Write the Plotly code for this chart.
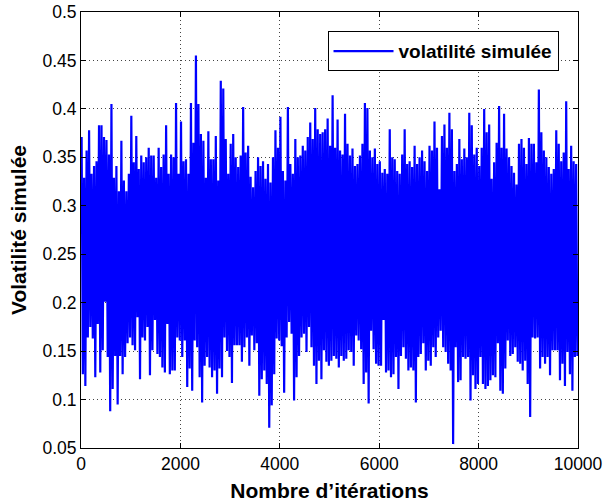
import plotly.graph_objects as go

# Simulated volatility, read per 50-iteration bin: highest and lowest value in each bin
bin_width = 50
bin_start = list(range(0, 10000, bin_width))

vol_high = [
0.371,0.329,0.357,0.378,0.333,0.341,0.346,0.383,0.383,0.371,
0.368,0.353,0.405,0.329,0.341,0.315,0.367,0.326,0.315,0.333,
0.393,0.345,0.372,0.338,0.352,0.345,0.350,0.360,0.352,0.352,
0.329,0.360,0.340,0.353,0.383,0.333,0.353,0.350,0.406,0.333,
0.387,0.346,0.348,0.333,0.406,0.365,0.455,0.405,0.374,0.367,
0.329,0.377,0.348,0.348,0.372,0.326,0.429,0.421,0.369,0.333,
0.364,0.374,0.350,0.340,0.352,0.402,0.355,0.362,0.330,0.319,
0.336,0.350,0.341,0.346,0.328,0.343,0.324,0.350,0.378,0.360,
0.392,0.336,0.326,0.402,0.343,0.333,0.369,0.350,0.352,0.362,
0.357,0.371,0.386,0.369,0.401,0.379,0.374,0.376,0.379,0.390,
0.362,0.414,0.360,0.389,0.357,0.353,0.395,0.364,0.352,0.359,
0.341,0.343,0.352,0.364,0.406,0.401,0.357,0.350,0.359,0.343,
0.346,0.334,0.338,0.333,0.379,0.350,0.348,0.336,0.333,0.353,
0.379,0.343,0.346,0.340,0.362,0.343,0.350,0.357,0.346,0.336,
0.362,0.357,0.387,0.360,0.317,0.372,0.384,0.360,0.396,0.379,
0.336,0.343,0.369,0.348,0.359,0.350,0.396,0.383,0.353,0.360,
0.341,0.360,0.400,0.376,0.384,0.328,0.345,0.365,0.403,0.360,
0.395,0.359,0.350,0.341,0.334,0.322,0.364,0.369,0.360,0.343,
0.370,0.364,0.364,0.345,0.420,0.376,0.357,0.350,0.340,0.333,
0.338,0.378,0.364,0.346,0.355,0.408,0.338,0.362,0.346,0.343,
]

vol_low = [
0.126,0.114,0.164,0.175,0.163,0.123,0.178,0.128,0.151,0.201,
0.144,0.088,0.111,0.145,0.095,0.145,0.126,0.144,0.158,0.164,
0.156,0.151,0.185,0.121,0.164,0.161,0.175,0.125,0.151,0.182,
0.147,0.144,0.133,0.128,0.178,0.126,0.130,0.130,0.164,0.161,
0.144,0.161,0.113,0.132,0.109,0.161,0.154,0.123,0.097,0.135,
0.144,0.133,0.123,0.130,0.106,0.132,0.123,0.164,0.150,0.144,
0.117,0.156,0.156,0.156,0.139,0.154,0.164,0.135,0.166,0.151,
0.158,0.104,0.121,0.130,0.116,0.071,0.094,0.126,0.163,0.161,
0.155,0.107,0.164,0.180,0.168,0.099,0.123,0.145,0.164,0.168,
0.149,0.175,0.154,0.135,0.116,0.140,0.121,0.151,0.139,0.135,
0.140,0.145,0.142,0.133,0.145,0.140,0.142,0.151,0.149,0.135,
0.166,0.161,0.152,0.116,0.128,0.096,0.171,0.152,0.137,0.135,
0.135,0.182,0.128,0.130,0.123,0.126,0.144,0.111,0.145,0.154,
0.142,0.130,0.133,0.130,0.097,0.144,0.147,0.158,0.130,0.140,
0.135,0.154,0.144,0.164,0.171,0.154,0.149,0.137,0.130,0.054,
0.154,0.118,0.120,0.144,0.142,0.144,0.099,0.125,0.111,0.116,
0.144,0.116,0.111,0.114,0.120,0.125,0.123,0.158,0.109,0.106,
0.132,0.161,0.145,0.147,0.154,0.139,0.137,0.130,0.140,0.116,
0.082,0.164,0.163,0.164,0.132,0.144,0.137,0.144,0.125,0.151,
0.151,0.151,0.120,0.137,0.114,0.149,0.126,0.109,0.144,0.145,
]

x_ticks = [0, 2000, 4000, 6000, 8000, 10000]
x_tick_labels = ["0", "2000", "4000", "6000", "8000", "10000"]
y_ticks = [0.05, 0.1, 0.15, 0.2, 0.25, 0.3, 0.35, 0.4, 0.45, 0.5]
y_tick_labels = ["0.05", "0.1", "0.15", "0.2", "0.25", "0.3", "0.35", "0.4", "0.45", "0.5"]

# the series swings between the high and the low of each bin
xs, ys = [], []
for s, hi, lo in zip(bin_start, vol_high, vol_low):
    xs += [s + bin_width * 0.25, s + bin_width * 0.75]
    ys += [hi, lo]

FONT = "Liberation Sans, Arial, Helvetica, sans-serif"

fig = go.Figure()
fig.add_trace(go.Scatter(
    x=xs, y=ys, mode="lines", name="volatilité simulée",
    line=dict(color="#0000ff", width=2.2, simplify=False),
))

axis_common = dict(
    showline=True, linecolor="black", linewidth=1, mirror="ticks",
    ticks="inside", ticklen=5, tickcolor="black", tickwidth=1,
    showgrid=True, gridcolor="#444444", griddash="1px,3px", gridwidth=1,
    zeroline=False, automargin=False,
    tickfont=dict(family=FONT, size=17.5, color="black"),
)

fig.update_layout(
    width=604, height=502,
    margin=dict(l=81, r=26, t=12, b=54),
    paper_bgcolor="white", plot_bgcolor="white",
    font=dict(family=FONT, color="black"),
    xaxis=dict(range=[0, 10000], tickvals=x_ticks, ticktext=x_tick_labels,
               title=dict(text="<b>Nombre d’itérations</b>", font=dict(family=FONT, size=21), standoff=10),
               **axis_common),
    yaxis=dict(range=[0.05, 0.5], tickvals=y_ticks, ticktext=y_tick_labels,
               title=dict(text="<b>Volatilité simulée</b>", font=dict(family=FONT, size=21), standoff=10),
               **axis_common),
    showlegend=True,
    legend=dict(x=0.496, y=0.956, xanchor="left", yanchor="top",
                bgcolor="white", bordercolor="black", borderwidth=1,
                font=dict(family=FONT, size=19, color="black", weight="bold"),
                itemwidth=60),
)

fig.write_html("out.html")
